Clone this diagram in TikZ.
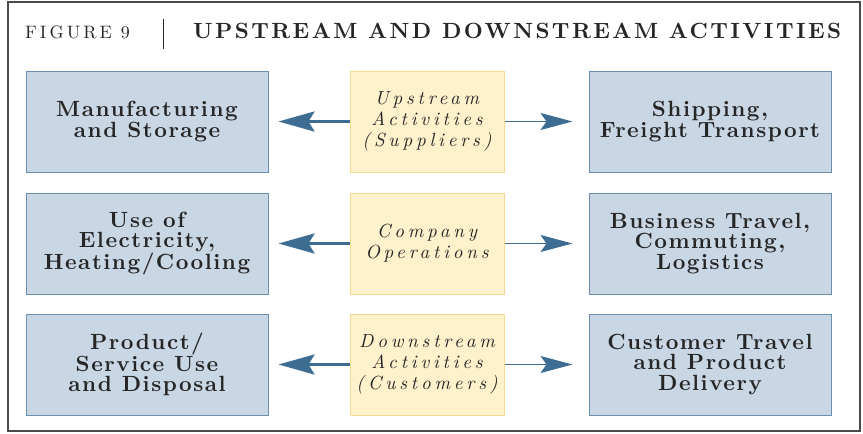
\documentclass[tikz,border=0pt]{standalone}
\usepackage{fontspec}
\setmainfont{lmroman10-regular.otf}[
  BoldFont=lmroman10-bold.otf,
  ItalicFont=lmroman10-italic.otf,
  BoldItalicFont=lmroman10-bolditalic.otf]
\usetikzlibrary{arrows.meta}
\definecolor{scopefill}{HTML}{C9D6E4}
\definecolor{scopeedge}{HTML}{6A8FB1}
\definecolor{actfill}{HTML}{FEF1CB}
\definecolor{actedge}{HTML}{F5DB92}
\definecolor{arrowblue}{HTML}{3D6D93}
\definecolor{inkgray}{HTML}{262626}
\definecolor{framegray}{HTML}{4A4A4A}
\tikzset{
  scopebox/.style={draw=scopeedge, fill=scopefill, line width=1pt, inner sep=0pt,
    minimum width=242pt, minimum height=101pt, align=center, text=inkgray,
    font=\fontsize{22}{20.5}\selectfont\bfseries\addfontfeatures{LetterSpace=7}},
  actbox/.style={draw=actedge, fill=actfill, line width=1pt, inner sep=0pt,
    minimum width=154pt, minimum height=101pt, align=center, text=inkgray,
    font=\fontsize{19}{21}\selectfont\itshape\addfontfeatures{LetterSpace=20}},
  backarrow/.style={arrowblue, line width=3pt, shorten >=10pt,
    -{Stealth[length=36pt, width=20pt, inset=6pt]}},
  fwdarrow/.style={arrowblue, line width=1.3pt, shorten >=16pt,
    -{Stealth[length=32pt, width=17pt, inset=6pt]}},
}
\begin{document}
\begin{tikzpicture}[x=1pt,y=-1pt]
  \useasboundingbox (0,0) rectangle (863,434);
  \draw[framegray, line width=1.5pt] (8,2) rectangle (860,431);
  % heading
  \node[anchor=base west, inner sep=0pt, text=inkgray,
    font=\fontsize{18}{18}\selectfont\addfontfeatures{LetterSpace=17}] (fig) at (25,38) {FIGURE 9};
  \draw[inkgray, line width=1pt] (163,19) -- (163,49);
  \node[anchor=base west, inner sep=0pt, text=inkgray,
    font=\fontsize{22}{22}\selectfont\bfseries\addfontfeatures{LetterSpace=11}] (title) at (193,38)
    {UPSTREAM AND DOWNSTREAM ACTIVITIES};

  % upstream
  \node[actbox] (up) at (427,121.5) {Upstream\\Activities\\(Suppliers)};
  \node[scopebox] (mfg) at (147,121.5) {Manufacturing\\and Storage};
  \node[scopebox] (ship) at (710,121.5) {Shipping,\\Freight Transport};
  % company
  \node[actbox] (ops) at (427,243.5) {Company\\Operations};
  \node[scopebox] (energy) at (147,243.5) {Use of\\Electricity,\\Heating/Cooling};
  \node[scopebox] (travel) at (710,243.5) {Business Travel,\\Commuting,\\Logistics};
  % downstream
  \node[actbox] (down) at (427,364.5) {Downstream\\Activities\\(Customers)};
  \node[scopebox] (use) at (147,364.5) {Product/\\Service Use\\and Disposal};
  \node[scopebox] (deliv) at (710,364.5) {Customer Travel\\and Product\\Delivery};

  \draw[backarrow] (up) -- (mfg);
  \draw[fwdarrow] (up) -- (ship);
  \draw[backarrow] (ops) -- (energy);
  \draw[fwdarrow] (ops) -- (travel);
  \draw[backarrow] (down) -- (use);
  \draw[fwdarrow] (down) -- (deliv);
\end{tikzpicture}
\end{document}
